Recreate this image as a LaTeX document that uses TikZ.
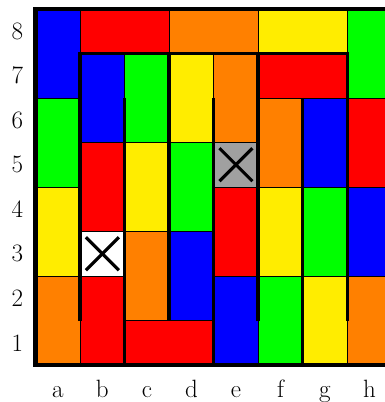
\documentclass[tikz,border=0pt]{standalone}
\definecolor{pR}{RGB}{255,0,0}
\definecolor{pB}{RGB}{0,0,255}
\definecolor{pG}{RGB}{0,255,0}
\definecolor{pY}{RGB}{255,237,0}
\definecolor{pO}{RGB}{255,128,0}
\definecolor{pK}{RGB}{160,160,160}
\begin{document}
\begin{tikzpicture}[x=1cm,y=1cm,
  piece/.style={draw=black, line width=0.5pt},
  wall/.style={line width=2.2pt},
  border/.style={line width=2.8pt},
  cross/.style={line width=2pt},
  lbl/.style={font=\fontsize{16}{19}\selectfont, inner sep=0pt}]
\useasboundingbox (-0.8,-0.83) rectangle (7.83,8.20);
\foreach \x/\y/\w/\h/\c in {
  0/6/1/2/pB, 1/7/2/1/pR, 3/7/2/1/pO, 5/7/2/1/pY, 7/6/1/2/pG,
  0/4/1/2/pG, 1/5/1/2/pB, 2/5/1/2/pG, 3/5/1/2/pY, 4/5/1/2/pO,
  5/6/2/1/pR, 5/4/1/2/pO, 6/4/1/2/pB, 7/4/1/2/pR, 4/4/1/1/pK,
  0/2/1/2/pY, 1/3/1/2/pR, 2/3/1/2/pY, 3/3/1/2/pG, 4/2/1/2/pR,
  5/2/1/2/pY, 6/2/1/2/pG, 7/2/1/2/pB, 1/2/1/1/white,
  2/1/1/2/pO, 3/1/1/2/pB, 0/0/1/2/pO, 1/0/1/2/pR, 2/0/2/1/pR,
  4/0/1/2/pB, 5/0/1/2/pG, 6/0/1/2/pY, 7/0/1/2/pO}
  {\filldraw[piece, fill=\c] (\x,\y) rectangle ++(\w,\h);}
\foreach \x/\y in {4/4, 1/2}{
  \draw[cross] (\x+0.13,\y+0.13) -- (\x+0.87,\y+0.87);
  \draw[cross] (\x+0.13,\y+0.87) -- (\x+0.87,\y+0.13);
}
\draw[wall] (1,1) -- (1,7) -- (7,7) -- (7,1);
\draw[wall] (2,6) -- (2,0);
\draw[wall] (3,7) -- (3,1);
\draw[wall] (4,6) -- (4,0);
\draw[wall] (5,7) -- (5,1);
\draw[wall] (6,6) -- (6,0);
\draw[border] (0,0) rectangle (8,8);
\foreach \r in {1,...,8}
  \node[lbl] (row\r) at (-0.41,\r-0.5) {\r};
\foreach \c [count=\i] in {a,b,c,d,e,f,g,h}
  \node[lbl, anchor=base] (col\c) at (\i-0.5,-0.72) {\c};
\end{tikzpicture}
\end{document}
